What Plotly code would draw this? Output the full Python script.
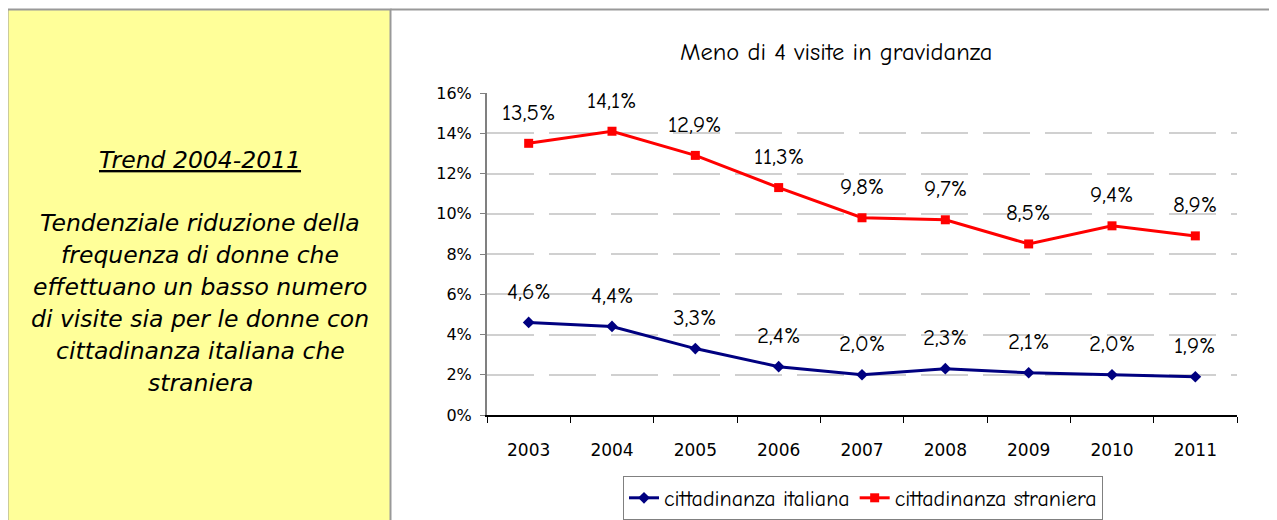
import plotly.graph_objects as go

years = ["2003", "2004", "2005", "2006", "2007", "2008", "2009", "2010", "2011"]
italiana = [4.6, 4.4, 3.3, 2.4, 2.0, 2.3, 2.1, 2.0, 1.9]
straniera = [13.5, 14.1, 12.9, 11.3, 9.8, 9.7, 8.5, 9.4, 8.9]
y_ticks = [0, 2, 4, 6, 8, 10, 12, 14, 16]
y_ticklabels = [f"{v}%" for v in y_ticks]
chart_title = "Meno di 4 visite in gravidanza"
panel_title = "Trend 2004-2011"
panel_lines = [
    "Tendenziale riduzione della",
    "frequenza di donne che",
    "effettuano un basso numero",
    "di visite sia per le donne con",
    "cittadinanza italiana che",
    "straniera",
]

OFF = 8  # page body margin
W, H = 1277 - OFF, 520 - OFF
# plot area in reference (screen) pixels
L, R, T, B = 487, 1237, 93, 415
pw, ph = R - L, B - T


def px(x):
    return (x - L) / pw


def py(y):
    return (B - y) / ph


COMIC = "Comic Sans MS, Comic Neue, DejaVu Sans, sans-serif"
VERD = "Verdana, DejaVu Sans, sans-serif"

fig = go.Figure()
fig.add_trace(go.Scatter(
    x=years, y=italiana, name="cittadinanza italiana", mode="lines+markers",
    line=dict(color="#000080", width=3),
    marker=dict(symbol="diamond", size=9, color="#000080"),
))
fig.add_trace(go.Scatter(
    x=years, y=straniera, name="cittadinanza straniera", mode="lines+markers",
    line=dict(color="#FF0000", width=3),
    marker=dict(symbol="square", size=9, color="#FF0000"),
))

anns = []
for series in (italiana, straniera):
    for i, v in enumerate(series):
        anns.append(dict(
            x=i, y=v, xref="x", yref="y", text=f"{v:.1f}%".replace(".", ","),
            showarrow=False, yshift=31, font=dict(family=COMIC, size=23, color="black"),
        ))

anns.append(dict(
    x=px(836), y=py(52), xref="paper", yref="paper", text=chart_title,
    showarrow=False, xanchor="center", yanchor="middle",
    font=dict(family=COMIC, size=24.5, color="black"),
))

panel_cx = px(200)
anns.append(dict(
    x=panel_cx, y=py(160), xref="paper", yref="paper",
    text=f"<i><u>{panel_title}</u></i>", showarrow=False,
    xanchor="center", yanchor="middle",
    font=dict(family=VERD, size=23.5, color="black"),
))
for i, line in enumerate(panel_lines):
    anns.append(dict(
        x=panel_cx, y=py(223 + i * 32), xref="paper", yref="paper",
        text=f"<i>{line}</i>", showarrow=False,
        xanchor="center", yanchor="middle",
        font=dict(family=VERD, size=23.5, color="black"),
    ))

shapes = [
    dict(type="rect", xref="paper", yref="paper",
         x0=px(7.5), x1=px(390.5), y0=py(540), y1=py(9.5),
         fillcolor="#FFFF99", line=dict(color="#999999", width=2), layer="below"),
    dict(type="line", xref="paper", yref="paper",
         x0=px(390.5), x1=px(1290), y0=py(9.5), y1=py(9.5),
         line=dict(color="#999999", width=2), layer="below"),
]

fig.update_layout(
    width=W, height=H,
    margin=dict(l=L - OFF, r=(W + OFF) - R, t=T - OFF, b=(H + OFF) - B, pad=0,
                autoexpand=False),
    paper_bgcolor="white", plot_bgcolor="white",
    showlegend=True,
    legend=dict(
        orientation="h", x=px(863), y=py(498), xanchor="center", yanchor="middle",
        bordercolor="#808080", borderwidth=1, bgcolor="white",
        font=dict(family=COMIC, size=22, color="black"),
        itemwidth=30, tracegroupgap=0,
    ),
    annotations=anns, shapes=shapes,
    xaxis=dict(
        type="category", tickson="boundaries", ticks="outside", ticklen=6,
        tickcolor="black", showline=True, linecolor="black", linewidth=1.5,
        showgrid=False, ticklabelstandoff=19, automargin=False,
        tickfont=dict(family=VERD, size=17, color="black"), range=[-0.5, 8.5],
    ),
    yaxis=dict(
        range=[0, 16], tickvals=y_ticks, ticktext=y_ticklabels,
        ticks="outside", ticklen=5, tickcolor="#808080",
        showline=True, linecolor="#808080", linewidth=2,
        showgrid=True, gridcolor="#D0D0D0", gridwidth=1.5, griddash="47px,15px",
        zeroline=False, ticklabelstandoff=5, automargin=False,
        tickfont=dict(family=VERD, size=16, color="black"),
    ),
)

fig.write_html("out.html")
